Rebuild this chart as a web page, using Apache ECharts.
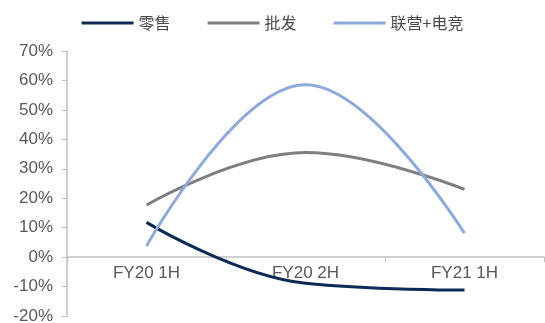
<!DOCTYPE html>
<html>
<head>
<meta charset="utf-8">
<script src="https://cdn.jsdelivr.net/npm/echarts@6/dist/echarts.min.js"></script>
<style>
  html, body { margin: 0; padding: 0; background: #ffffff; }
  #chart { width: 545px; height: 323px; }
</style>
</head>
<body>
<div id="chart"></div>
<script>
// Half-year periods on the category axis
const categories = ['FY20 1H', 'FY20 2H', 'FY21 1H'];
// Growth rates by channel, in percent
const retail = [11.8, -8.9, -11.2];
const wholesale = [17.7, 35.5, 23.0];
const jointOnline = [3.8, 58.5, 8.1];
// Value axis range and step, in percent
const yMin = -20;
const yMax = 70;
const yStep = 10;

const seriesNames = ['零售', '批发', '联营+电竞'];
const seriesColors = ['#0b2a55', '#7f7f7f', '#8eaadc'];
const seriesData = [retail, wholesale, jointOnline];

const chart = echarts.init(document.getElementById('chart'), null, { renderer: 'canvas' });

const axisGrey = '#bfbfbf';
const labelFont = { fontFamily: '"Liberation Sans", Arial, sans-serif', fontSize: 17, color: '#595959' };

// Plot area, in pixels
const gridTop = 51;
const gridBottom = 7;
const gridHeight = 323 - gridTop - gridBottom;
// Lift the category axis from the bottom edge up to the zero line
const zeroOffset = -gridHeight * (0 - yMin) / (yMax - yMin);

chart.setOption({
  animation: false,
  backgroundColor: '#ffffff',
  legend: {
    top: 10,
    left: 'center',
    icon: 'rect',
    itemWidth: 52,
    itemHeight: 3,
    itemGap: 37,
    textStyle: {
      fontFamily: '"Noto Sans CJK SC", sans-serif',
      fontSize: 16,
      color: '#4a4a4a'
    },
    data: seriesNames
  },
  grid: {
    left: 67, right: 1, top: gridTop, bottom: gridBottom,
    containLabel: false,
    outerBoundsMode: 'none'
  },
  xAxis: {
    type: 'category',
    data: categories,
    boundaryGap: true,
    offset: zeroOffset,
    axisLine: { onZero: false, lineStyle: { color: axisGrey, width: 1.5 } },
    axisTick: { show: true, length: 5, lineStyle: { color: axisGrey } },
    axisLabel: Object.assign({ margin: 8 }, labelFont),
    splitLine: { show: false }
  },
  yAxis: {
    type: 'value',
    min: yMin,
    max: yMax,
    interval: yStep,
    axisLine: { show: true, lineStyle: { color: axisGrey, width: 1.5 } },
    axisTick: { show: true, length: 5, lineStyle: { color: axisGrey } },
    axisLabel: Object.assign({ margin: 14, formatter: '{value}%' }, labelFont),
    splitLine: { show: false }
  },
  series: seriesNames.map((name, i) => ({
    name: name,
    type: 'line',
    data: seriesData[i],
    smooth: 0.42,
    symbol: 'none',
    lineStyle: { color: seriesColors[i], width: 3 },
    itemStyle: { color: seriesColors[i] }
  }))
});
</script>
</body>
</html>
